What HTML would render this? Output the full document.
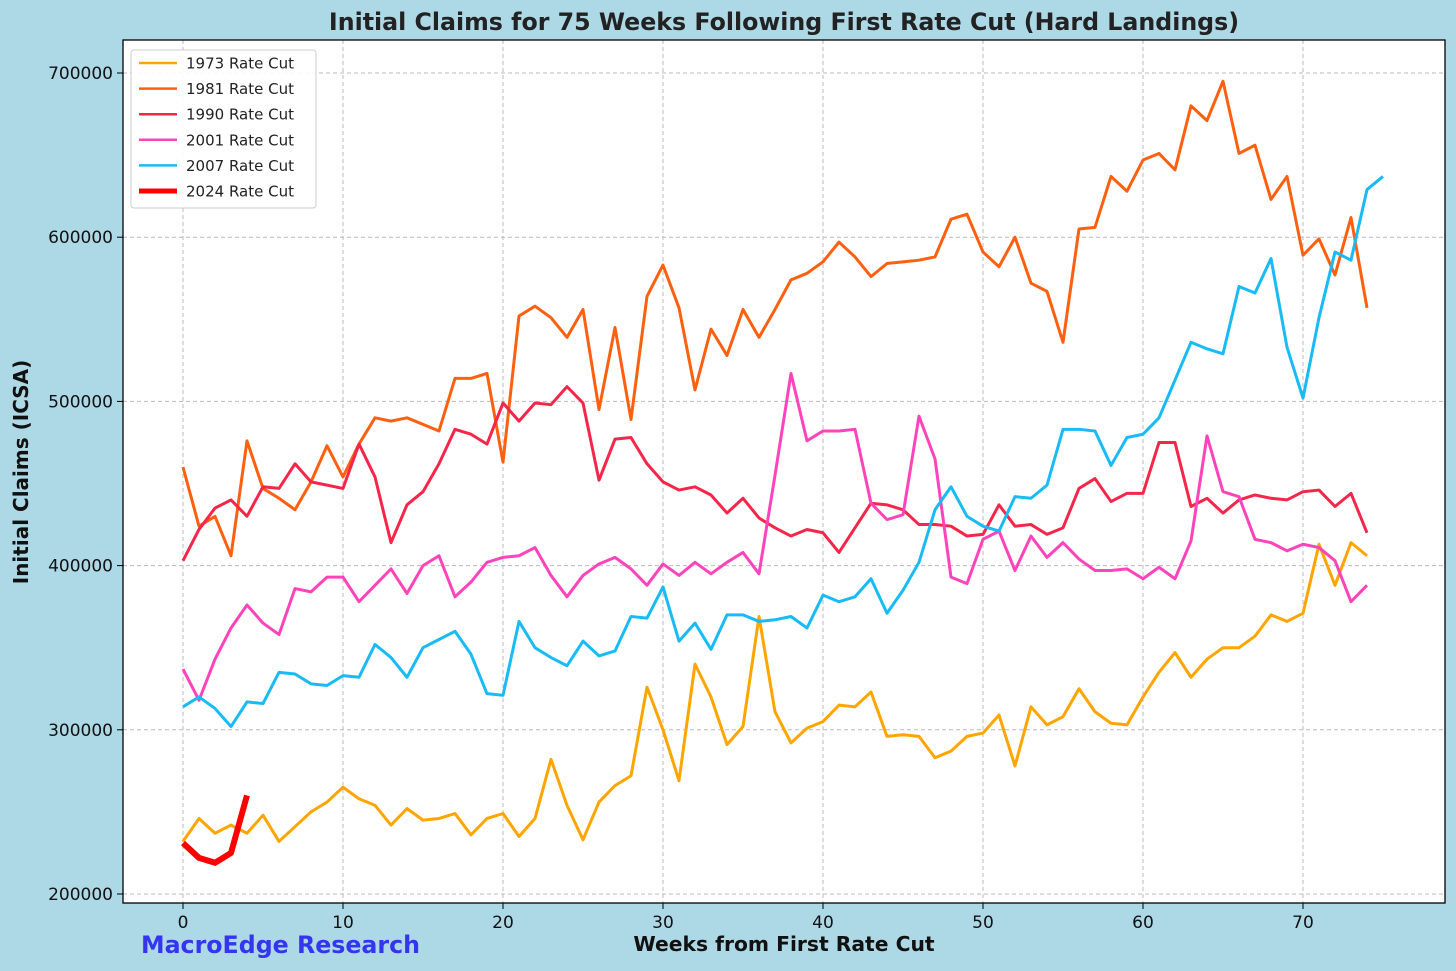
<!DOCTYPE html>
<html><head><meta charset="utf-8"><style>
body{margin:0;background:#add8e6;}
svg{display:block;font-family:"DejaVu Sans","Liberation Sans",sans-serif;}
</style></head><body>
<svg id="c" width="1456" height="971" xmlns="http://www.w3.org/2000/svg">
<rect width="1456" height="971" fill="#add8e6"/>
<rect x="123" y="40" width="1322" height="863" fill="#fff"/>
<g id="grid"></g>
<g id="series"></g>
<rect x="123" y="40" width="1322" height="863" fill="none" stroke="#000" stroke-width="1.3"/>
<text x="784" y="30" text-anchor="middle" font-size="23.7" font-weight="bold" fill="#222">Initial Claims for 75 Weeks Following First Rate Cut (Hard Landings)</text>
<text x="784" y="951" text-anchor="middle" font-size="20.3" font-weight="bold" fill="#111">Weeks from First Rate Cut</text>
<text transform="translate(28,472) rotate(-90)" text-anchor="middle" font-size="20" font-weight="bold" fill="#111">Initial Claims (ICSA)</text>
<text x="141" y="953" font-size="23.7" font-weight="bold" fill="#3535f0">MacroEdge Research</text>
<g id="legend">
<rect x="131" y="50" width="185" height="158" rx="3" fill="#fff" fill-opacity="0.9" stroke="#ccc"/>
</g>
</svg>
<script>
const X=i=>183+16*i, Y=v=>894-(v-200)*1.642;
const g=document.getElementById('grid'), s=document.getElementById('series'), L=document.getElementById('legend');
const ns='http://www.w3.org/2000/svg';
function el(p,t,a,txt){const e=document.createElementNS(ns,t);for(const k in a)e.setAttribute(k,a[k]);if(txt!==undefined)e.textContent=txt;p.appendChild(e);return e;}
for(let w=0;w<=70;w+=10){el(g,'line',{x1:X(w),x2:X(w),y1:40,y2:903,stroke:'#bbb','stroke-dasharray':'4,3'});el(g,'line',{x1:X(w),x2:X(w),y1:903,y2:909,stroke:'#000'});el(g,'text',{x:X(w),y:928,'text-anchor':'middle','font-size':17,fill:'#111'},w);}
for(let v=200;v<=700;v+=100){el(g,'line',{x1:123,x2:1445,y1:Y(v),y2:Y(v),stroke:'#bbb','stroke-dasharray':'4,3'});el(g,'line',{x1:117,x2:123,y1:Y(v),y2:Y(v),stroke:'#000'});el(g,'text',{x:113,y:Y(v)+6,'text-anchor':'end','font-size':17,fill:'#111'},v*1000);}
const D=[
['1973 Rate Cut','#ffa500',3,[232,246,237,242,237,248,232,241,250,256,265,258,254,242,252,245,246,249,236,246,249,235,246,282,254,233,256,266,272,326,300,269,340,320,291,302,369,311,292,301,305,315,314,323,296,297,296,283,287,296,298,309,278,314,303,308,325,311,304,303,320,335,347,332,343,350,350,357,370,366,371,413,388,414,406]],
['1981 Rate Cut','#ff6010',3,[460,424,430,406,476,447,441,434,451,473,454,474,490,488,490,486,482,514,514,517,463,552,558,551,539,556,495,545,489,564,583,557,507,544,528,556,539,556,574,578,585,597,588,576,584,585,586,588,611,614,591,582,600,572,567,536,605,606,637,628,647,651,641,680,671,695,651,656,623,637,589,599,577,612,557]],
['1990 Rate Cut','#f5264a',3,[403,422,435,440,430,448,447,462,451,449,447,474,454,414,437,445,462,483,480,474,499,488,499,498,509,499,452,477,478,462,451,446,448,443,432,441,429,423,418,422,420,408,423,438,437,434,425,425,424,418,419,437,424,425,419,423,447,453,439,444,444,475,475,436,441,432,440,443,441,440,445,446,436,444,420]],
['2001 Rate Cut','#ff44bb',3,[337,318,343,362,376,365,358,386,384,393,393,378,388,398,383,400,406,381,390,402,405,406,411,394,381,394,401,405,398,388,401,394,402,395,402,408,395,455,517,476,482,482,483,438,428,431,491,465,393,389,416,421,397,418,405,414,404,397,397,398,392,399,392,415,479,445,442,416,414,409,413,411,403,378,388]],
['2007 Rate Cut','#18bbf5',3,[314,320,313,302,317,316,335,334,328,327,333,332,352,344,332,350,355,360,346,322,321,366,350,344,339,354,345,348,369,368,387,354,365,349,370,370,366,367,369,362,382,378,381,392,371,385,402,434,448,430,424,421,442,441,449,483,483,482,461,478,480,490,513,536,532,529,570,566,587,533,502,551,591,586,629,637]],
['2024 Rate Cut','#ff0000',6,[231,222,219,225,260]]];
D.forEach((d,k)=>{el(s,'polyline',{points:d[3].map((v,i)=>X(i)+','+Y(v)).join(' '),fill:'none',stroke:d[1],'stroke-width':d[2],'stroke-linejoin':'round'});
const y=63+k*25.6;el(L,'line',{x1:139,x2:177,y1:y,y2:y,stroke:d[1],'stroke-width':d[2]==6?5:2.5});el(L,'text',{x:186,y:y+5.5,'font-size':15,fill:'#222'},d[0]);});
</script>
</body></html>
